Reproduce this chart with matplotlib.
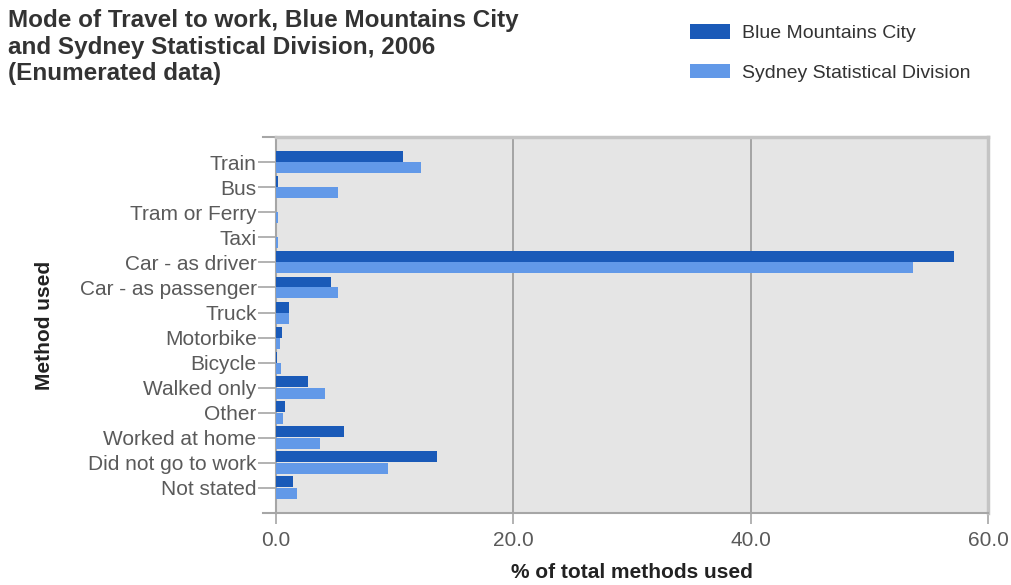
import matplotlib.pyplot as plt
from matplotlib.lines import Line2D
import numpy as np

plt.rcParams['font.family'] = ['Liberation Sans', 'DejaVu Sans']

methods = ['Train', 'Bus', 'Tram or Ferry', 'Taxi', 'Car - as driver',
           'Car - as passenger', 'Truck', 'Motorbike', 'Bicycle',
           'Walked only', 'Other', 'Worked at home', 'Did not go to work',
           'Not stated']
blue_mountains = [10.7, 0.2, 0.0, 0.0, 57.1, 4.6, 1.1, 0.5, 0.1,
                  2.7, 0.8, 5.7, 13.6, 1.4]
sydney = [12.2, 5.2, 0.2, 0.2, 53.7, 5.2, 1.1, 0.3, 0.4,
          4.1, 0.6, 3.7, 9.4, 1.8]
xticks = [0, 20, 40, 60]

dark = '#1a5ab8'
light = '#6299e8'
axis_grey = '#a6a6a6'
label_grey = '#5a5a5a'

fig = plt.figure(figsize=(10.11, 5.85), dpi=100)
ax = fig.add_axes([276 / 1011, 72.5 / 585, 712 / 1011, 375 / 585])
ax.set_facecolor('#e5e5e5')

y = np.arange(len(methods))
h = 0.44
ax.barh(y - h / 2, blue_mountains, height=h, color=dark,
        label='Blue Mountains City', zorder=3)
ax.barh(y + h / 2, sydney, height=h, color=light,
        label='Sydney Statistical Division', zorder=3)

ax.set_xlim(0, 60)
ax.set_ylim(len(methods), -1)
ax.set_yticks(y)
ax.set_yticklabels(methods, fontsize=15, color=label_grey)
ax.set_xticks(xticks)
ax.set_xticklabels(['%.1f' % v for v in xticks], fontsize=15,
                   color=label_grey)
ax.tick_params(axis='y', length=13, width=1.2, color=axis_grey, pad=1)
ax.tick_params(axis='x', length=8, width=1.2, color=axis_grey, pad=5)

for v in xticks[1:-1]:
    ax.axvline(v, color='#999999', lw=1.2, zorder=1)

for side in ['top', 'right']:
    ax.spines[side].set_color('#c4c4c4')
    ax.spines[side].set_linewidth(2.5)
for side in ['left', 'bottom']:
    ax.spines[side].set_color(axis_grey)
    ax.spines[side].set_linewidth(1.5)

# short extensions of the top and bottom frame lines past the y axis
for yy in [0, 1]:
    ax.add_line(Line2D([-13 / 712, 0], [yy, yy], transform=ax.transAxes,
                       color=axis_grey, lw=1.5, clip_on=False))

ax.set_xlabel('% of total methods used', fontsize=15, fontweight='bold',
              color='#222222')
ax.xaxis.set_label_coords(0.5, -50 / 375)
ax.set_ylabel('Method used', fontsize=15, fontweight='bold',
              color='#222222')
ax.yaxis.set_label_coords(-222 / 712, 0.5)

fig.text(8 / 1011, 1 - 9 / 585,
         'Mode of Travel to work, Blue Mountains City\n'
         'and Sydney Statistical Division, 2006\n(Enumerated data)',
         ha='left', va='top', fontsize=17.5, fontweight='bold',
         color='#333333', linespacing=1.2)

fig.legend(loc='upper left', bbox_to_anchor=(672 / 1011, 1 - 7 / 585),
           frameon=False, fontsize=14, handlelength=2.1, handleheight=0.75,
           labelspacing=1.1, handletextpad=0.6, labelcolor='#333333')

fig.savefig('out.png', dpi=100)
